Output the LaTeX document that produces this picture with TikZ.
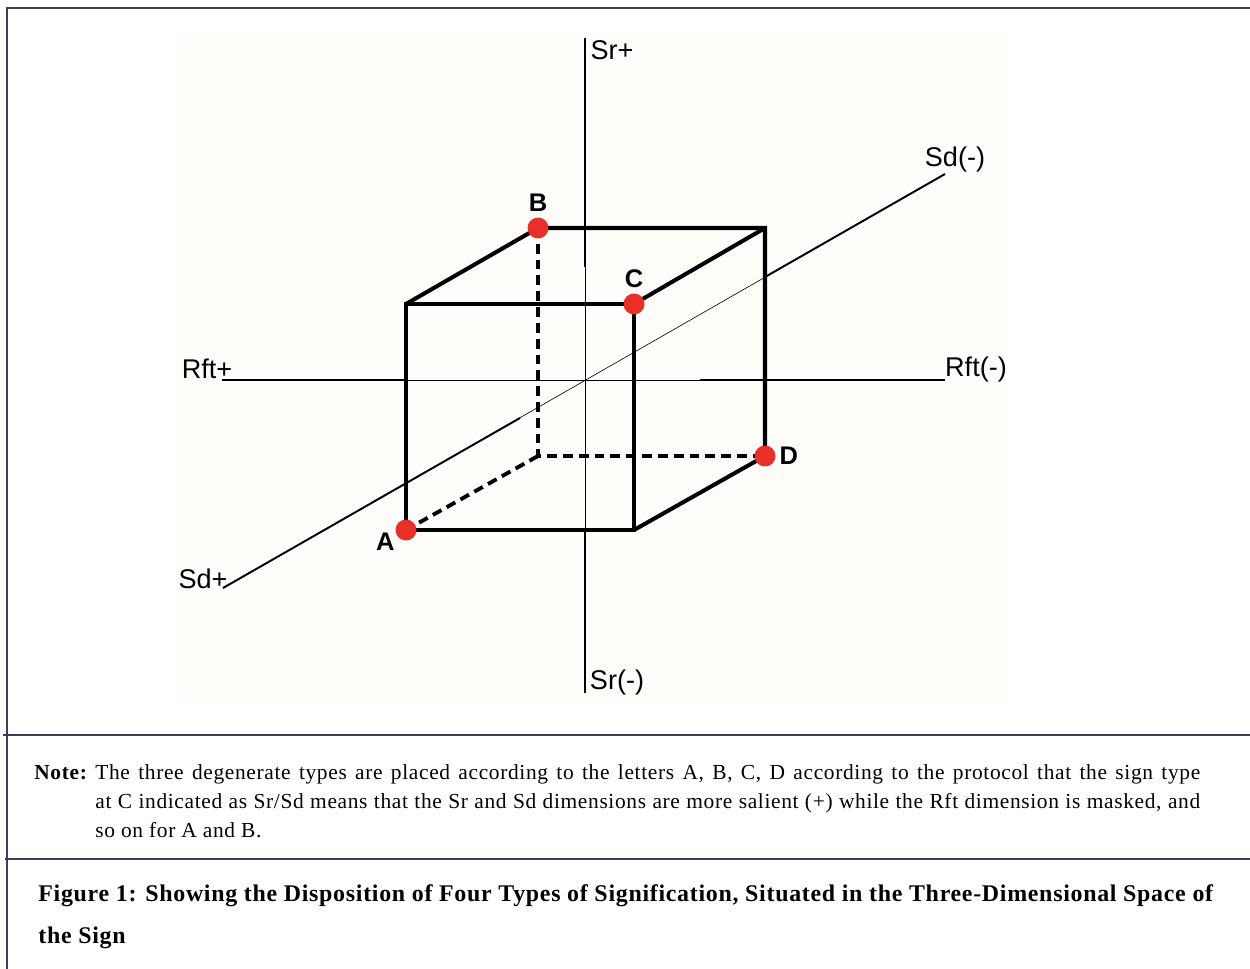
\documentclass[tikz,border=0pt]{standalone}
\usepackage{fontspec}
\setmainfont{Liberation Serif}
\newfontfamily\labelfont{Liberation Sans}
\newfontfamily\notefont[LetterSpace=3]{Liberation Serif}
\usetikzlibrary{positioning}
\definecolor{framecol}{RGB}{62,60,92}
\definecolor{dotred}{RGB}{232,48,40}
\definecolor{paper}{RGB}{254,253,249}
\begin{document}
\begin{tikzpicture}[x=0.02cm, y=-0.02cm]
        \useasboundingbox (0,0) rectangle (1250,969);
        \fill[paper] (180,37) rectangle (1010,697);
        % frame
        \draw[framecol, line width=1.2pt] (7,969) -- (7,8) -- (1250,8);
        \draw[framecol, line width=0.9pt] (3,735) -- (1250,735);
        \draw[framecol, line width=0.9pt] (5,859) -- (1250,859);
        \tikzstyle{every node}=[font=\labelfont\fontsize{15.4}{18}\selectfont, inner sep=1pt]
        \node (srp)  at (612,50)  {Sr+};
        \node (srm)  at (617,682) {Sr(-)};
        \node (rftp) at (207,369) {Rft+};
        \node (rftm) at (976,369) {Rft(-)};
        \node (sdm)  at (955,160) {Sd(-)};
        \node (sdp)  at (203,579) {Sd+};
        \coordinate (srtop) at (585,38);
        \coordinate (srbot) at (585,693);
        \coordinate (rftl)  at (222,380);
        \coordinate (rftr)  at (945,380);
        \coordinate (sdl)   at (223,588);
        \coordinate (sdr)   at (945,174);
        % axes, thin where they pass the cube
        \draw[line width=0.35pt] (srtop) -- (srbot);
        \draw[line width=1.5pt] (srtop) -- (585,267);
        \draw[line width=1.5pt] (585,530) -- (srbot);
        \draw[line width=0.35pt] (rftl) -- (rftr);
        \draw[line width=1.5pt] (rftl) -- (405,380);
        \draw[line width=1.5pt] (700,380) -- (rftr);
        \draw[line width=0.35pt] (sdl) -- (sdr);
        \draw[line width=1.1pt] (sdl) -- (520,418);
        \draw[line width=1.1pt] (765,277) -- (sdr);
        % cube
        \coordinate (fbl) at (406,530);
        \coordinate (ftl) at (406,304);
        \coordinate (ftr) at (634,304);
        \coordinate (fbr) at (634,530);
        \coordinate (bbl) at (538,456);
        \coordinate (btl) at (538,228);
        \coordinate (btr) at (765,228);
        \coordinate (bbr) at (765,456);
        \draw[line width=2.3pt] (fbl) -- (ftl) -- (ftr) -- (fbr) -- cycle;
        \draw[line width=2.3pt] (ftl) -- (btl) -- (btr) -- (bbr) -- (fbr);
        \draw[line width=2.3pt] (ftr) -- (btr);
        \draw[line width=2.2pt, dash pattern=on 5.6pt off 3.4pt] (btl) -- (bbl) -- (bbr);
        \draw[line width=2.2pt, dash pattern=on 5.6pt off 3.4pt] (bbl) -- (fbl);
        \tikzstyle{every node}=[circle, fill=dotred, inner sep=0pt, minimum size=0.42cm]
        \node (A) at (fbl) {};
        \node (B) at (btl) {};
        \node (C) at (ftr) {};
        \node (D) at (bbr) {};
        \tikzstyle{every node}=[font=\labelfont\bfseries\fontsize{14.5}{17}\selectfont, inner sep=0pt]
        \node[above=3pt of B] (lb) {B};
        \node[above=3pt of C] (lc) {C};
        \node[below left=-3pt and 2pt of A] (la) {A};
        \node[right=2pt of D] (ld) {D};
        % note and caption
        \tikzstyle{every node}=[anchor=base west, inner sep=0pt]
        \node[font=\notefont\bfseries\fontsize{12.2}{14}\selectfont] (notelbl) at (34,779) {Note:};
        \node[font=\notefont\fontsize{12.2}{14}\selectfont] (note1) at (95,779)
            {\makebox[22.1cm][s]{The three degenerate types are placed according to the letters A, B, C, D according to the protocol that the sign type}};
        \node[font=\notefont\fontsize{12.2}{14}\selectfont] (note2) at (95,808)
            {\makebox[22.1cm][s]{at C indicated as Sr/Sd means that the Sr and Sd dimensions are more salient (+) while the Rft dimension is masked, and}};
        \node[font=\notefont\fontsize{12.2}{14}\selectfont] (note3) at (95,837) {so on for A and B.};
        \node[font=\notefont\bfseries\fontsize{13.6}{16}\selectfont] (cap1) at (38,901)
            {\makebox[23.5cm][s]{Figure 1: Showing the Disposition of Four Types of Signification, Situated in the Three-Dimensional Space of}};
        \node[font=\notefont\bfseries\fontsize{13.6}{16}\selectfont] (cap2) at (38,943) {the Sign};
    \end{tikzpicture}
\end{document}
